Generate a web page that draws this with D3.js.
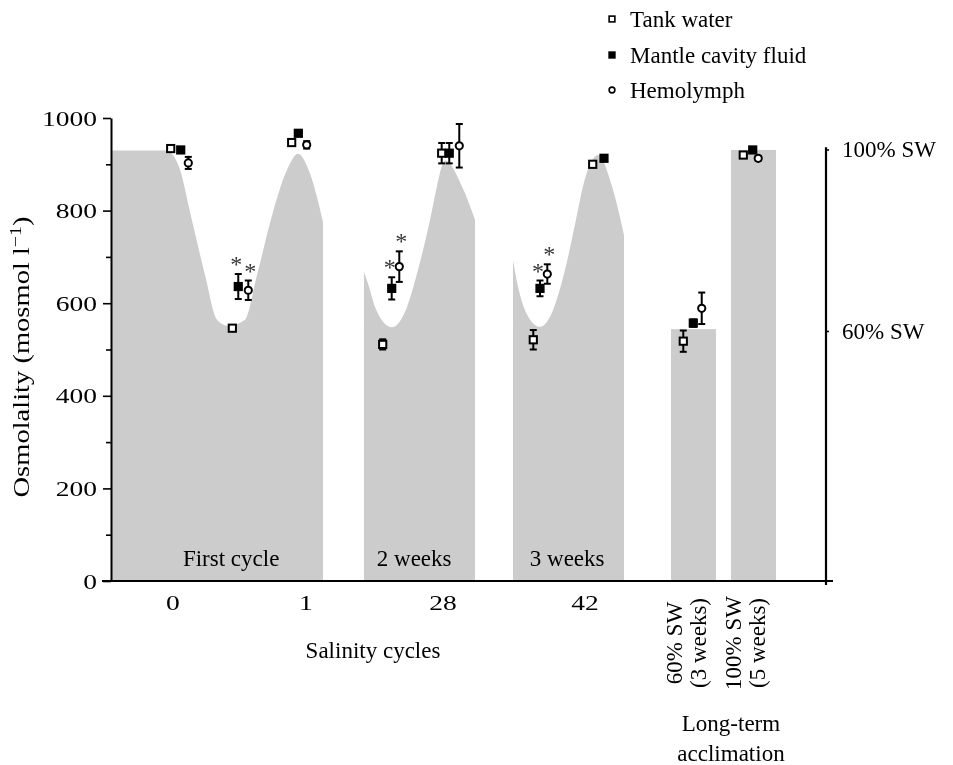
<!DOCTYPE html>
<html><head><meta charset="utf-8">
<script src="https://cdn.jsdelivr.net/npm/d3@7/dist/d3.min.js"></script>
<style>
body{margin:0;background:#fff}
svg{will-change:transform}
svg text{font-family:"Liberation Serif","Times New Roman",serif;fill:#000;font-variant-emoji:text}
</style></head><body>
<svg id="chart" width="953" height="765" font-family="Liberation Serif"></svg>
<script>
// ---------- data ----------
const yTickValues = [0, 200, 400, 600, 800, 1000];
const yMinorTicks = [100, 300, 500, 700, 900];
const xTickPos = [8.67, 27.27, 46.43, 66.29];
const xTickLabels = ["0", "1", "28", "42"];
const swOsmol = [540, 932];
const swLabels = ["60% SW", "100% SW"];

// salinity profile (background) — position along time axis, osmolality
const seg1Pos = [0, 7.4, 8.25, 9.65, 11.05, 13.15, 14.83, 16.36, 18.74, 20.42, 22.66, 24.62, 26.15, 27.83, 29.65];
const seg1Val = [930, 930, 926, 888, 797, 661, 564, 551, 564, 661, 797, 888, 923, 880, 775];
const seg2Pos = [35.38, 36.08, 36.92, 39.3, 41.4, 42.94, 44.62, 45.59, 46.71, 49.09, 50.91];
const seg2Val = [668, 636, 592, 548, 592, 672, 780, 852, 908, 852, 780];
const seg3Pos = [56.22, 56.92, 57.9, 60.0, 61.82, 63.5, 65.03, 66.01, 68.11, 70.07, 71.75];
const seg3Val = [693, 636, 585, 549, 585, 672, 780, 852, 920, 852, 747];
const segLabels = ["First cycle", "2 weeks", "3 weeks"];
const segLabelPos = [16.8, 42.4, 63.8];

// long-term acclimation bars
const barStart = [78.32, 86.71];
const barEnd = [84.62, 93.01];
const barVal = [544, 931];
const barLabel1 = ["60% SW", "100% SW"];
const barLabel2 = ["(3 weeks)", "(5 weeks)"];

// measured osmolality
const tankPos = [8.35, 16.97, 25.27, 38.0, 46.25, 59.06, 67.37, 80.04, 88.43];
const tankVal = [934, 546, 947, 511, 924, 521, 900, 518, 920];
const tankErr = [3, 5, 7, 11, 22, 21, 4, 23, 5];

const mantlePos = [9.75, 17.8, 26.2, 39.26, 47.31, 60.0, 68.95, 81.44, 89.75];
const mantleVal = [931, 636, 967, 632, 924, 632, 913, 557, 931];
const mantleErr = [4, 27, 3, 24, 22, 17, 3, 8, 3];
const mantleSig = [0, 1, 0, 1, 0, 1, 0, 0, 0];

const hemoPos = [10.81, 19.2, 27.37, 40.32, 48.71, 61.02, 82.62, 90.52];
const hemoVal = [903, 628, 942, 679, 940, 663, 589, 913];
const hemoErr = [13, 21, 8, 33, 47, 21, 34, 5];
const hemoSig = [0, 1, 0, 1, 0, 1, 0, 0];

const legendLabels = ["Tank water", "Mantle cavity fluid", "Hemolymph"];

// ---------- chart ----------
const FONT = "Liberation Serif";
const svg = d3.select("#chart");
const x = d3.scaleLinear().domain([0, 100]).range([111, 826]);
const y = d3.scaleLinear().domain([0, 1000]).range([581, 118]);
const GRAY = "#cccccc";

const area = d3.area().x(d => x(d[0])).y0(y(0)).y1(d => y(d[1])).curve(d3.curveMonotoneX);
[[seg1Pos, seg1Val], [seg2Pos, seg2Val], [seg3Pos, seg3Val]].forEach(([p, v]) => {
  svg.append("path").attr("d", area(p.map((d, i) => [d, v[i]]))).attr("fill", GRAY);
});
barVal.forEach((v, i) => {
  svg.append("rect").attr("x", x(barStart[i])).attr("width", x(barEnd[i]) - x(barStart[i]))
    .attr("y", y(v)).attr("height", y(0) - y(v)).attr("fill", GRAY);
});

// segment labels
segLabels.forEach((t, i) => {
  svg.append("text").attr("x", x(segLabelPos[i])).attr("y", 566).attr("text-anchor", "middle")
    .attr("font-size", 23).text(t);
});

function stretch(sel, f) {
  sel.each(function () {
    const w = this.getComputedTextLength();
    d3.select(this).attr("textLength", w * f).attr("lengthAdjust", "spacingAndGlyphs");
  });
}

// left axis
const gy = svg.append("g").attr("transform", `translate(${x(0)},0)`)
  .call(d3.axisLeft(y).tickValues(yTickValues).tickFormat(d3.format("d")).tickSize(8).tickSizeOuter(0).tickPadding(6));
gy.attr("font-family", FONT);
gy.select(".domain").attr("stroke-width", 2);
gy.selectAll(".tick line").attr("stroke-width", 1.6);
gy.selectAll(".tick text").attr("font-size", 22).attr("fill", "#000");
stretch(gy.selectAll(".tick text"), 1.25);
const gym = svg.append("g").attr("transform", `translate(${x(0)},0)`)
  .call(d3.axisLeft(y).tickValues(yMinorTicks).tickSize(5).tickSizeOuter(0).tickFormat(""));
gym.select(".domain").remove();
gym.selectAll(".tick line").attr("stroke-width", 1.6);

// x axis line
svg.append("line").attr("x1", x(0) - 9).attr("x2", x(100) + 7).attr("y1", y(0)).attr("y2", y(0))
  .attr("stroke", "#000").attr("stroke-width", 2.2);
xTickLabels.forEach((t, i) => {
  const tx = svg.append("text").attr("x", x(xTickPos[i])).attr("y", 610).attr("text-anchor", "middle")
    .attr("font-size", 22).text(t);
  stretch(tx, 1.25);
});
svg.append("text").attr("x", 373).attr("y", 658).attr("text-anchor", "middle").attr("font-size", 23).text("Salinity cycles");

// long-term labels (rotated)
barLabel1.forEach((t, i) => {
  const cx = (x(barStart[i]) + x(barEnd[i])) / 2;
  svg.append("text").attr("transform", `translate(${cx - 12},643) rotate(-90)`).attr("text-anchor", "middle")
    .attr("font-size", 23).text(t);
  svg.append("text").attr("transform", `translate(${cx + 12},643) rotate(-90)`).attr("text-anchor", "middle")
    .attr("font-size", 23).text(barLabel2[i]);
});
svg.append("text").attr("x", 731).attr("y", 731).attr("text-anchor", "middle").attr("font-size", 23).text("Long-term");
svg.append("text").attr("x", 731).attr("y", 761).attr("text-anchor", "middle").attr("font-size", 23).text("acclimation");

// right axis
const gr = svg.append("g").attr("transform", `translate(${x(100)},0)`)
  .call(d3.axisRight(y).tickValues(swOsmol).tickFormat((d, i) => swLabels[i]).tickSize(3).tickSizeOuter(0).tickPadding(13));
gr.attr("font-family", FONT);
gr.select(".domain").remove();
gr.selectAll(".tick text").attr("font-size", 23).attr("fill", "#000");
gr.selectAll(".tick line").attr("stroke-width", 1.6);
svg.append("line").attr("x1", x(100)).attr("x2", x(100)).attr("y1", y(937)).attr("y2", y(0) + 4)
  .attr("stroke", "#000").attr("stroke-width", 2.2);

// y axis title
const yt = svg.append("text").attr("transform", "translate(29,357) rotate(-90)").attr("text-anchor", "middle")
  .attr("font-size", 23).attr("textLength", 281).attr("lengthAdjust", "spacingAndGlyphs");
yt.append("tspan").text("Osmolality (mosmol l");
yt.append("tspan").attr("font-size", 16).attr("dy", -8).text("−1");
yt.append("tspan").attr("dy", 8).text(")");

// data series
function drawSeries(pos, val, err, kind) {
  const g = svg.append("g");
  pos.forEach((p, i) => {
    const cx = x(p), top = y(val[i] + err[i]), bot = y(val[i] - err[i]);
    g.append("line").attr("x1", cx).attr("x2", cx).attr("y1", top).attr("y2", bot).attr("stroke", "#000").attr("stroke-width", 2);
    [top, bot].forEach(yy => g.append("line").attr("x1", cx - 3.5).attr("x2", cx + 3.5).attr("y1", yy).attr("y2", yy)
      .attr("stroke", "#000").attr("stroke-width", 2));
    drawMarker(g, kind, cx, y(val[i]), 1);
  });
}
function drawMarker(g, kind, cx, cy, s) {
  if (kind === "tank") {
    g.append("rect").attr("x", cx - 3.6 * s).attr("y", cy - 3.6 * s).attr("width", 7.2 * s).attr("height", 7.2 * s)
      .attr("fill", "#fff").attr("stroke", "#000").attr("stroke-width", 2 * s);
  } else if (kind === "mantle") {
    g.append("rect").attr("x", cx - 4.6 * s).attr("y", cy - 4.6 * s).attr("width", 9.2 * s).attr("height", 9.2 * s)
      .attr("fill", "#000");
  } else {
    g.append("circle").attr("cx", cx).attr("cy", cy).attr("r", 3.6 * s)
      .attr("fill", "#fff").attr("stroke", "#000").attr("stroke-width", 2 * s);
  }
}
drawSeries(tankPos, tankVal, tankErr, "tank");
drawSeries(mantlePos, mantleVal, mantleErr, "mantle");
drawSeries(hemoPos, hemoVal, hemoErr, "hemo");

// significance asterisks
function drawSig(pos, val, err, sig, dx) {
  pos.forEach((p, i) => {
    if (!sig[i]) return;
    svg.append("text").attr("x", x(p) + dx).attr("y", y(val[i] + err[i]) - 2).attr("text-anchor", "middle")
      .attr("font-family", FONT).attr("font-size", 24).attr("opacity", 0.99).style("fill", "#333").text("*");
  });
}
drawSig(mantlePos, mantleVal, mantleErr, mantleSig, -2);
drawSig(hemoPos, hemoVal, hemoErr, hemoSig, 2);

// legend
const kinds = ["tank", "mantle", "hemo"];
const legY = [19, 55, 90];
legendLabels.forEach((t, i) => {
  drawMarker(svg, kinds[i], 612, legY[i], 0.8);
  svg.append("text").attr("x", 630).attr("y", legY[i] + 8).attr("font-size", 23).text(t);
});
</script>
</body></html>
